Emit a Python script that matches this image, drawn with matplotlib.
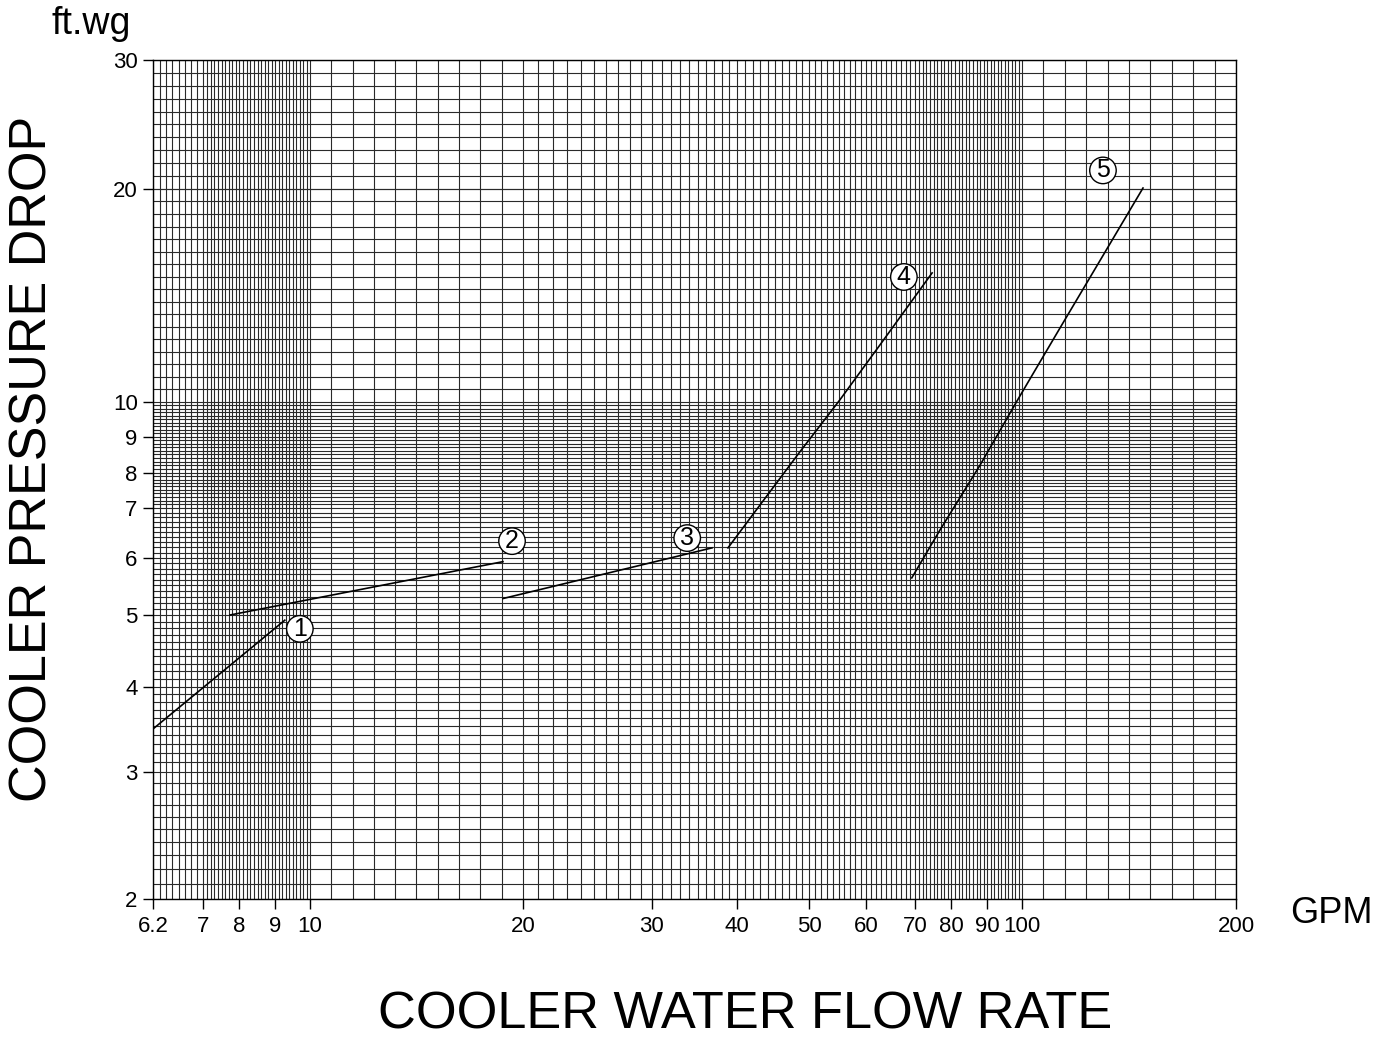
import numpy as np
import matplotlib
matplotlib.use("Agg")
import matplotlib.pyplot as plt
from matplotlib.ticker import FixedLocator, NullFormatter

plt.rcParams["font.family"] = ["Liberation Sans", "DejaVu Sans"]

# curve data (GPM, ft.wg)
c1_gpm = [6.2, 9.27]
c1_dp = [3.47, 4.92]
c2_gpm = [7.74, 18.74]
c2_dp = [5.00, 5.93]
c3_gpm = [18.74, 36.76]
c3_dp = [5.27, 6.19]
c4_gpm = [38.8, 42.96, 48.6, 55.2, 62.7, 74.6]
c4_dp = [6.19, 7.08, 8.57, 10.07, 12.04, 15.22]
c5_gpm = [69.3, 76.8, 88.0, 98.5, 113.1, 128.7, 148.0]
c5_dp = [5.63, 6.54, 8.21, 10.03, 12.72, 15.83, 20.06]

curves = [(c1_gpm, c1_dp), (c2_gpm, c2_dp), (c3_gpm, c3_dp), (c4_gpm, c4_dp), (c5_gpm, c5_dp)]

# circled curve numbers
label_text = ["1", "2", "3", "4", "5"]
label_gpm = [9.70, 19.30, 33.8, 67.6, 130.0]
label_dp = [4.79, 6.32, 6.38, 15.02, 21.2]

xticks = [6.2, 7, 8, 9, 10, 20, 30, 40, 50, 60, 70, 80, 90, 100, 200]
xticklabels = ["6.2", "7", "8", "9", "10", "20", "30", "40", "50", "60", "70", "80", "90", "100", "200"]
yticks = [2, 3, 4, 5, 6, 7, 8, 9, 10, 20, 30]
yticklabels = ["2", "3", "4", "5", "6", "7", "8", "9", "10", "20", "30"]

# the printed chart paper is only roughly logarithmic: relative positions of its ticks
x_tick_pos = [0, 50, 86, 122, 157, 370, 499, 584, 656, 713, 762, 798, 834, 869, 1083]
y_tick_pos = [0, 127, 212, 284, 341, 391, 426, 462, 497, 710, 839]


def paper_scale(ticks, pos):
    lt = np.log10(ticks)
    p = np.asarray(pos, float)
    # extend linearly on both ends so values just outside the range still map
    lt = np.concatenate([[lt[0] - 10], lt, [lt[-1] + 10]])
    p = np.concatenate([[p[0] - 10 * (p[1] - p[0]) / (lt[2] - lt[1])], p,
                        [p[-1] + 10 * (p[-1] - p[-2]) / (lt[-2] - lt[-3])]])

    def fwd(v):
        v = np.clip(np.asarray(v, float), 1e-9, None)
        return np.interp(np.log10(v), lt, p)

    def inv(q):
        return 10 ** np.interp(np.asarray(q, float), p, lt)

    return fwd, inv


# chart-paper grid
xgrid = np.concatenate([np.arange(6.2, 10.0, 0.1), np.geomspace(10, 20, 11),
                        np.arange(21, 100, 1.0), np.geomspace(100, 200, 11)])
ygrid = np.concatenate([np.arange(2.0, 10.0, 0.1), np.geomspace(10, 20, 18),
                        np.geomspace(20, 30, 11)])

fig = plt.figure(figsize=(13.92, 10.41), dpi=100)
ax = fig.add_axes([0.1099, 0.1364, 0.778, 0.806])
ax.set_xscale("function", functions=paper_scale(xticks, x_tick_pos))
ax.set_yscale("function", functions=paper_scale(yticks, y_tick_pos))
ax.set_xlim(6.2, 200)
ax.set_ylim(2, 30)

for gx in xgrid:
    ax.axvline(gx, color="#2a2a2a", lw=0.8, zorder=1)
for gy in ygrid:
    ax.axhline(gy, color="#2a2a2a", lw=0.8, zorder=1)

for gpm, dp in curves:
    ax.plot(gpm, dp, color="black", lw=1.2, zorder=3)

for t, gx, gy in zip(label_text, label_gpm, label_dp):
    ax.text(gx, gy, t, fontsize=18, ha="center", va="center", zorder=4,
            bbox=dict(boxstyle="circle,pad=0.05", fc="white", ec="black", lw=1))

ax.xaxis.set_major_locator(FixedLocator(xticks))
ax.xaxis.set_minor_locator(FixedLocator([]))
ax.xaxis.set_minor_formatter(NullFormatter())
ax.set_xticklabels(xticklabels)
ax.yaxis.set_major_locator(FixedLocator(yticks))
ax.yaxis.set_minor_locator(FixedLocator([]))
ax.yaxis.set_minor_formatter(NullFormatter())
ax.set_yticklabels(yticklabels)
ax.tick_params(axis="both", direction="out", length=7, width=1, labelsize=16, color="black")
ax.tick_params(axis="x", pad=5)
ax.tick_params(axis="y", pad=4)

for s in ax.spines.values():
    s.set_color("black")
    s.set_linewidth(1)

fig.text(0.037, 0.967, "ft.wg", fontsize=27, ha="left", va="baseline")
fig.text(0.927, 0.122, "GPM", fontsize=26, ha="left", va="center")
fig.text(0.024, 0.559, "COOLER PRESSURE DROP", fontsize=37.5, rotation=90, ha="center", va="center")
fig.text(0.535, 0.012, "COOLER WATER FLOW RATE", fontsize=37.7, ha="center", va="baseline")

fig.savefig("out.png", dpi=100)
